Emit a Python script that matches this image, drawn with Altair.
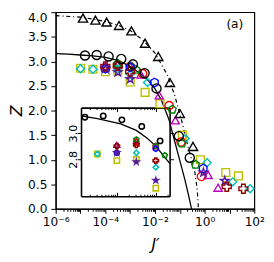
import altair as alt
import pandas as pd
import numpy as np

FONT = "DejaVu Sans"

# ---------------- data: log10(J'), Z ----------------
yellow_logj = [-5.0, -4.5, -4.0, -3.5, -3.0, -2.4, -1.8, -0.9, -0.17, 0.85, 1.36]
yellow_z = [2.86, 2.84, 2.79, 2.80, 2.58, 2.37, 2.14, 1.50, 1.00, 0.74, 0.67]
cyan_logj = [-5.0, -4.5, -3.5, -3.0, -2.3, -0.78, 0.1, 1.13, 1.83]
cyan_z = [2.85, 2.84, 2.85, 2.74, 2.57, 1.43, 0.94, 0.55, 0.41]
magenta_logj = [-4.0, -3.5, -3.0, -2.57, -1.83, -1.18, 0.14, 0.54]
magenta_z = [2.91, 2.94, 2.90, 2.73, 2.31, 1.80, 0.69, 0.43]
red_logj = [-3.5, -3.0, -2.5, -1.43, -0.95, -0.13]
red_z = [2.93, 2.90, 2.75, 2.10, 1.36, 0.66]
green_logj = [-3.5, -3.0, -2.77, -1.31, -0.92, -0.37]
green_z = [2.95, 2.90, 2.83, 2.02, 1.33, 0.90]
blue_logj = [-4.0, -3.0, -2.02, -0.06]
blue_z = [2.85, 2.88, 2.57, 0.82]
purple_logj = [-4.0, -3.5, -3.0, -0.05, 0.81]
purple_z = [2.85, 2.78, 2.64, 0.74, 0.57]
darkred_logj = [-4.0, -3.5, -3.0, 0.89, 1.56]
darkred_z = [2.90, 2.91, 2.79, 0.45, 0.41]
circle_logj = [-4.82, -4.35, -3.87, -3.36, -2.89, -2.42, -1.94, -1.04, -0.60]
circle_z = [3.12, 3.13, 3.10, 3.05, 2.94, 2.76, 2.45, 1.48, 1.04]
tri_logj = [-4.9, -4.4, -3.95, -3.45, -2.95, -2.4, -1.87, -1.4, -1.0, -0.47]
tri_z = [3.88, 3.84, 3.80, 3.73, 3.62, 3.37, 3.10, 2.57, 1.94, 1.27]

solid_logj = [-6.0, -5.5, -5.0, -4.5, -4.0, -3.5, -3.0, -2.7, -2.5, -2.25, -2.0,
              -1.75, -1.5, -1.43, -1.2, -1.0, -0.8, -0.65, -0.53]
solid_z = [3.16, 3.15, 3.13, 3.11, 3.08, 3.02, 2.90, 2.79, 2.72, 2.60, 2.44,
           2.22, 1.90, 1.80, 1.36, 0.98, 0.60, 0.28, 0.0]
dashdot_logj = [-6.0, -5.0, -4.5, -4.0, -3.5, -3.0, -2.5, -2.0, -1.5, -1.2, -0.92,
                -0.65, -0.41, -0.3, -0.25]
dashdot_z = [3.93, 3.90, 3.86, 3.81, 3.74, 3.63, 3.44, 3.17, 2.72, 2.30, 1.78,
             1.22, 0.80, 0.40, 0.0]

inset_line_logj = [-4.92, -4.5, -3.9, -3.5, -3.22, -3.0, -2.7, -2.645]
inset_line_z = [3.13, 3.11, 3.07, 3.02, 2.96, 2.90, 2.79, 2.77]

# tick labels
xlabel_vals = [1e-6, 1e-4, 1e-2, 1.0, 1e2]
xlabel_txt = ["10⁻⁶", "10⁻⁴", "10⁻²", "10⁰", "10²"]
ytick_vals = [0.0, 0.5, 1.0, 1.5, 2.0, 2.5, 3.0, 3.5, 4.0]
inset_ytick_vals = [2.8, 3.0]

# ---------------- series styles ----------------
STAR = ("M0,-1L0.2245,-0.309L0.9511,-0.309L0.3633,0.118L0.5878,0.809L0,0.382"
        "L-0.5878,0.809L-0.3633,0.118L-0.9511,-0.309L-0.2245,-0.309Z")
PENT = "M0,-1L0.9511,-0.309L0.5878,0.809L-0.5878,0.809L-0.9511,-0.309Z"
DIAM = "M0,-1L1,0L0,1L-1,0Z"
HEXA = "M0,-1L0.866,-0.5L0.866,0.5L0,1L-0.866,0.5L-0.866,-0.5Z"

series = [
    ("yellow", yellow_logj, yellow_z, "square", "#bfbf00", 64),
    ("cyan", cyan_logj, cyan_z, DIAM, "#00bfbf", 90),
    ("magenta", magenta_logj, magenta_z, "triangle-up", "#bf00bf", 75),
    ("red", red_logj, red_z, "circle", "#ff0000", 30),
    ("green", green_logj, green_z, PENT, "#008000", 40),
    ("blue", blue_logj, blue_z, HEXA, "#0000ff", 35),
    ("purple", purple_logj, purple_z, STAR, "#551a9b", 70),
    ("darkred", darkred_logj, darkred_z, "cross", "#8b0000", 45),
    ("circle", circle_logj, circle_z, "circle", "black", 72),
    ("triangle", tri_logj, tri_z, "triangle-up", "black", 78),
]
names = [s[0] for s in series]
shape_scale = alt.Scale(domain=names, range=[s[3] for s in series])
color_scale = alt.Scale(domain=names, range=[s[4] for s in series])
size_scale = alt.Scale(domain=names, range=[s[5] for s in series])

frames = []
for i, (n, lj, z, *_rest) in enumerate(series):
    frames.append(pd.DataFrame({"logJ": lj, "Z": z, "s": n, "o": i}))
pts = pd.concat(frames, ignore_index=True)
pts["J"] = 10.0 ** pts["logJ"]

LO, HI = -4.92, -2.645
inset_pts = pts[(pts["logJ"] >= LO) & (pts["logJ"] <= HI) & (pts["s"] != "triangle")
                & (pts["Z"] >= 2.52) & (pts["Z"] <= 3.19)]

solid_df = pd.DataFrame({"J": 10.0 ** np.array(solid_logj), "Z": solid_z})
dash_df = pd.DataFrame({"J": 10.0 ** np.array(dashdot_logj), "Z": dashdot_z})
inset_line_df = pd.DataFrame({"J": 10.0 ** np.array(inset_line_logj), "Z": inset_line_z})

# ---------------- axes ----------------
W, H = 204, 202
major_test = "abs(log(datum.value)/LN10 - round(log(datum.value)/LN10)) < 1e-6"
xticks = []
for k in range(-6, 3):
    xticks.append(10.0 ** k)
    if k < 2:
        xticks += [m * 10.0 ** k for m in range(2, 10)]
expr = "''"
for v, t in reversed(list(zip(xlabel_vals, xlabel_txt))):
    expr = f"abs(datum.value/{v!r} - 1) < 1e-6 ? '{t}' : ({expr})"

common = dict(domainColor="black", tickColor="black", labelColor="black",
              titleColor="black", grid=False, labelFont=FONT, titleFont=FONT)

main_xaxis = alt.Axis(values=xticks, labelExpr=expr, labelOverlap=False, labelFlush=False,
                      tickSize={"condition": {"test": major_test, "value": 4.5}, "value": 2.5},
                      tickWidth=1, domainWidth=1.2, labelFontSize=12.5, labelPadding=3,
                      title="J′", titleFontStyle="italic", titleFontWeight="normal",
                      titleFontSize=16, titlePadding=9, **common)
main_yaxis = alt.Axis(values=ytick_vals, format=".1f", tickSize=5, tickWidth=1,
                      domainWidth=1.2, labelFontSize=12.5, labelPadding=4,
                      labelBaseline={"condition": {"test": "datum.value >= 3.99", "value": "top"},
                                     "value": "middle"},
                      title="Z", titleFontStyle="italic", titleFontWeight="normal",
                      titleFontSize=16, titlePadding=3, **common)

main_x = alt.Scale(type="log", domain=[1e-6, 1e2], nice=False)
main_y = alt.Scale(domain=[0, 4], nice=False, zero=False)

inset_xs = alt.Scale(type="log", domain=[10 ** LO, 10 ** HI], range=[26, 117], nice=False)
inset_ys = alt.Scale(domain=[2.519, 3.193], range=[189, 98], nice=False, zero=False)

inset_xticks = [m * 10.0 ** k for k in (-5, -4, -3) for m in range(1, 10)
                if 10 ** LO <= m * 10.0 ** k <= 10 ** HI]
inset_tick = {"condition": {"test": major_test, "value": 4}, "value": 2}

ax_in_bottom = alt.Axis(orient="top", offset=-189, values=inset_xticks, labels=False,
                        tickSize=inset_tick, domainWidth=1.6, title=None, **common)
ax_in_top = alt.Axis(orient="bottom", offset=-(H - 98), values=inset_xticks, labels=False,
                     tickSize=inset_tick, domainWidth=1.6, title=None, **common)
ax_in_left = alt.Axis(orient="left", offset=-26, values=inset_ytick_vals, format=".1f",
                      labelAngle=270, labelAlign="center", labelBaseline="alphabetic",
                      labelPadding=1, labelFontSize=11.5, tickSize=4, domainWidth=1.6,
                      title=None, **common)
ax_in_right = alt.Axis(orient="right", offset=-(W - 117), values=inset_ytick_vals,
                       labels=False, tickSize=4, domainWidth=1.6, title=None, **common)

# ---------------- main layers ----------------
X = alt.X("J:Q", scale=main_x, axis=main_xaxis)
Y = alt.Y("Z:Q", scale=main_y, axis=main_yaxis)

dash_line = alt.Chart(dash_df).mark_line(color="black", strokeWidth=1.2,
                                         strokeDash=[4, 3, 1, 3]).encode(x=X, y=Y)
solid_line = alt.Chart(solid_df).mark_line(color="black", strokeWidth=1.3).encode(x=X, y=Y)
main_pts = alt.Chart(pts).mark_point(filled=False, strokeWidth=1.4, opacity=1).encode(
    x=X, y=Y,
    shape=alt.Shape("s:N", scale=shape_scale, legend=None),
    color=alt.Color("s:N", scale=color_scale, legend=None),
    size=alt.Size("s:N", scale=size_scale, legend=None),
    order=alt.Order("o:Q"),
)
label_a = alt.Chart(pd.DataFrame({"t": ["(a)"]})).mark_text(
    font=FONT, fontSize=12.5, color="black").encode(
    x=alt.value(184), y=alt.value(12), text="t:N")

main = alt.layer(dash_line, solid_line, main_pts, label_a)

# ---------------- inset layers ----------------
inset_line = alt.Chart(inset_line_df).mark_line(color="black", strokeWidth=1.3).encode(
    x=alt.X("J:Q", scale=inset_xs, axis=ax_in_bottom),
    y=alt.Y("Z:Q", scale=inset_ys, axis=ax_in_left),
)
inset_points = alt.Chart(inset_pts).mark_point(filled=False, strokeWidth=1.6, size=30,
                                               opacity=1).encode(
    x=alt.X("J:Q", scale=inset_xs, axis=ax_in_top),
    y=alt.Y("Z:Q", scale=inset_ys, axis=ax_in_right),
    shape=alt.Shape("s:N", scale=shape_scale, legend=None),
    color=alt.Color("s:N", scale=color_scale, legend=None),
    order=alt.Order("o:Q"),
)

chart = alt.layer(main, inset_line, inset_points).resolve_scale(
    x="independent", y="independent"
).properties(
    width=W, height=H,
    padding={"left": 49, "top": 1, "right": 12, "bottom": 43},
    autosize=alt.AutoSizeParams(type="none"),
).configure_view(stroke="black", strokeWidth=1.2)

chart.save("out.html", embed_options={"renderer": "svg", "actions": False})
